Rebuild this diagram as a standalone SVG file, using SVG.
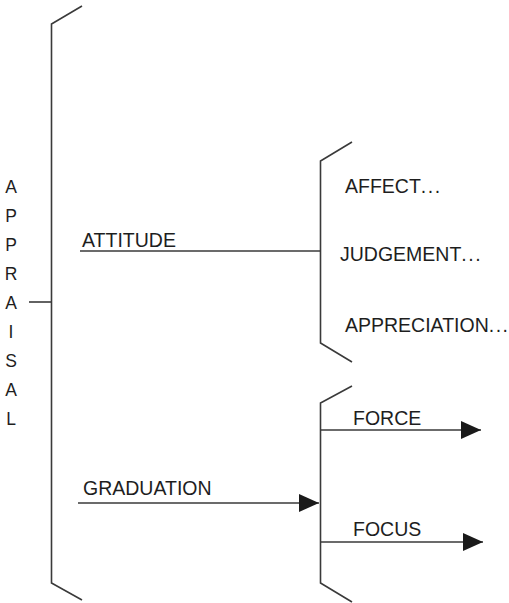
<svg xmlns="http://www.w3.org/2000/svg" width="509" height="603" viewBox="0 0 509 603">
<style>
.ln{fill:none;stroke:#3a3a3a;stroke-width:1.6;stroke-linecap:butt;stroke-linejoin:miter}
.t{font-family:"Liberation Sans",Arial,sans-serif;font-size:19.5px;fill:#1e1e1e}
.d{letter-spacing:1.5px}
.v{font-family:"Liberation Sans",Arial,sans-serif;font-size:17.5px;fill:#1e1e1e;text-anchor:middle}
</style>
<defs>
<marker id="ah" viewBox="0 0 20 18" refX="20" refY="9" markerWidth="20" markerHeight="18" markerUnits="userSpaceOnUse" orient="auto">
<path d="M0,0 L20,9 L0,18 Z" fill="#1a1a1a"/>
</marker>
</defs>
<rect width="509" height="603" fill="#fff"/>
<g id="appraisal">
<text class="v" x="11" y="193">A</text>
<text class="v" x="11" y="222">P</text>
<text class="v" x="11" y="251">P</text>
<text class="v" x="11" y="280">R</text>
<text class="v" x="11" y="309">A</text>
<text class="v" x="11" y="338">I</text>
<text class="v" x="11" y="367">S</text>
<text class="v" x="11" y="396">A</text>
<text class="v" x="11" y="425">L</text>
</g>
<g id="bracket-main">
<path class="ln" d="M82,6 L51.5,24 L51.5,583 L82,600"/>
</g>
<g id="bracket-attitude">
<path class="ln" d="M352,142 L320.5,161 L320.5,343 L352,362"/>
</g>
<g id="bracket-graduation">
<path class="ln" d="M352,386 L320.5,403 L320.5,583 L352,602"/>
</g>
<g id="attitude"><text class="t" x="82" y="247">ATTITUDE</text></g>
<g id="graduation"><text class="t" x="83" y="495">GRADUATION</text></g>
<g id="affect"><text class="t" x="345" y="193">AFFECT<tspan class="d">...</tspan></text></g>
<g id="judgement"><text class="t" x="340" y="261">JUDGEMENT<tspan class="d">...</tspan></text></g>
<g id="appreciation"><text class="t" x="345" y="332">APPRECIATION<tspan class="d">...</tspan></text></g>
<g id="force"><text class="t" x="353" y="425">FORCE</text></g>
<g id="focus"><text class="t" x="353" y="536">FOCUS</text></g>
<g id="connectors">
<line class="ln" x1="29" y1="302" x2="51.5" y2="302"/>
<line class="ln" x1="80" y1="251" x2="320.5" y2="251"/>
<line class="ln" x1="78" y1="503" x2="319" y2="503" marker-end="url(#ah)"/>
<line class="ln" x1="320.5" y1="430" x2="481" y2="430" marker-end="url(#ah)"/>
<line class="ln" x1="320.5" y1="542" x2="483" y2="542" marker-end="url(#ah)"/>
</g>
</svg>
